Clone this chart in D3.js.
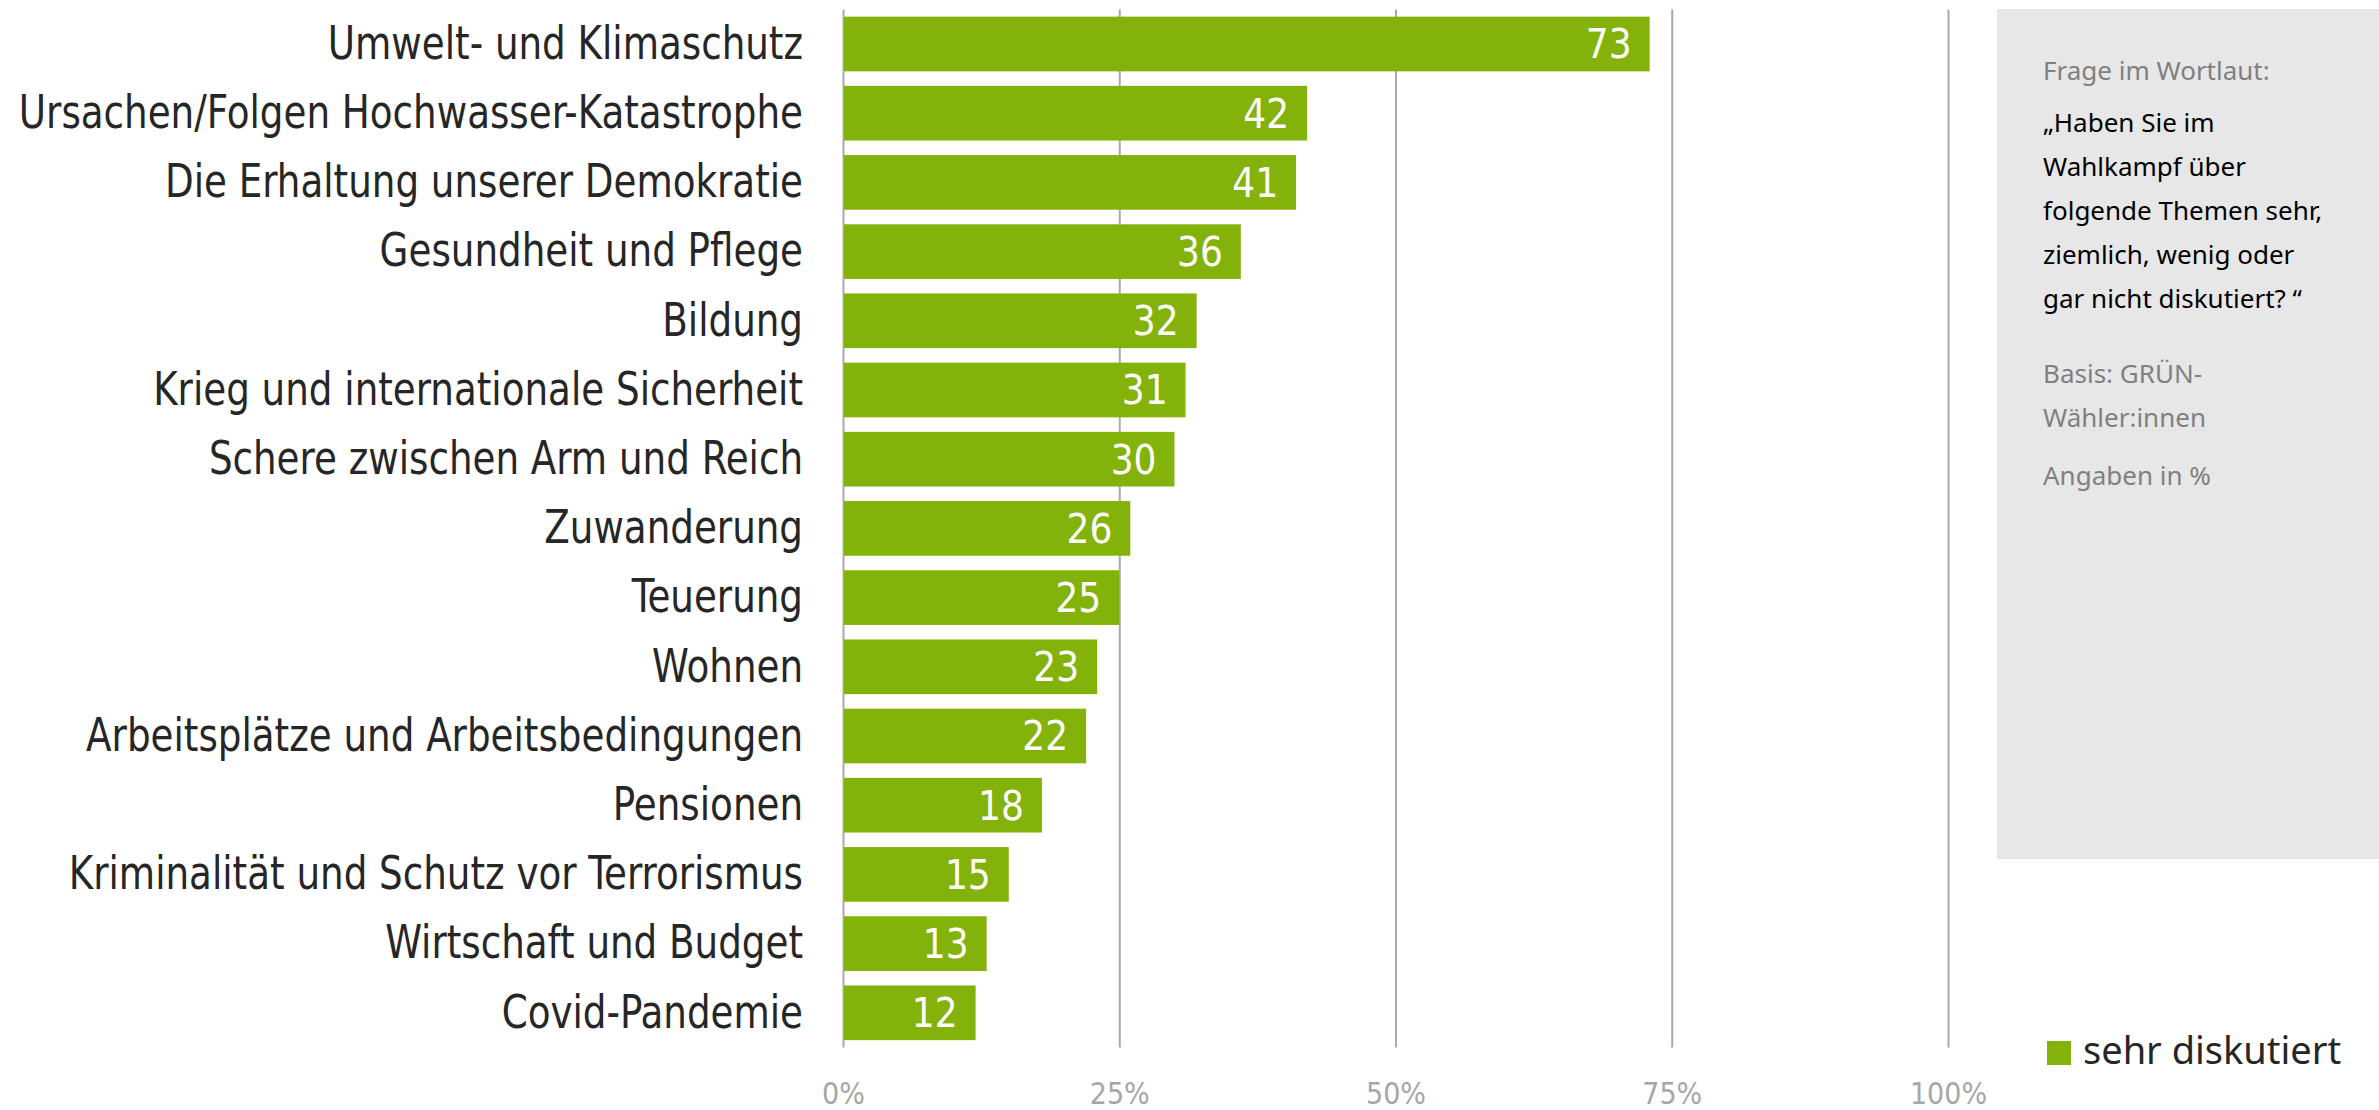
<!DOCTYPE html>
<html>
<head>
<meta charset="utf-8">
<script src="https://cdn.jsdelivr.net/npm/d3@7"></script>
<style>
  body { margin: 0; background: #fff; }
  .note { font-family: "Noto Sans", "Open Sans", sans-serif; }
</style>
</head>
<body>
<svg id="chart" width="2379" height="1110"></svg>
<script>
var categories = [
  'Umwelt- und Klimaschutz',
  'Ursachen/Folgen Hochwasser-Katastrophe',
  'Die Erhaltung unserer Demokratie',
  'Gesundheit und Pflege',
  'Bildung',
  'Krieg und internationale Sicherheit',
  'Schere zwischen Arm und Reich',
  'Zuwanderung',
  'Teuerung',
  'Wohnen',
  'Arbeitsplätze und Arbeitsbedingungen',
  'Pensionen',
  'Kriminalität und Schutz vor Terrorismus',
  'Wirtschaft und Budget',
  'Covid-Pandemie'
];
var values = [73, 42, 41, 36, 32, 31, 30, 26, 25, 23, 22, 18, 15, 13, 12];
var tickValues = [0, 25, 50, 75, 100];
var seriesName = 'sehr diskutiert';
var noteGray1 = ['Frage im Wortlaut:'];
var noteBlack = ['„Haben Sie im', 'Wahlkampf über', 'folgende Themen sehr,', 'ziemlich, wenig oder', 'gar nicht diskutiert? “'];
var noteGray2 = ['Basis: GRÜN-', 'Wähler:innen'];
var noteGray3 = ['Angaben in %'];

var green = '#83b20b';
var gridColor = '#aaaaaa';
var narrowFont = '"Liberation Sans Narrow", "DejaVu Sans Condensed", sans-serif';
var squeeze = 0.9; // the original label font is narrower than what we have

var svg = d3.select('#chart');

var plotTop = 9.4, plotBottom = 1047.4;
var x = d3.scaleLinear().domain([0, 100]).range([843, 1948]);
var y = d3.scaleBand()
  .domain(categories)
  .range([plotTop, plotBottom])
  .paddingInner(0.21)
  .paddingOuter(0.105);

// grid + percent labels
var xAxis = d3.axisBottom(x)
  .tickValues(tickValues)
  .tickSize(-(plotBottom - plotTop))
  .tickPadding(35)
  .tickFormat(d => d + '%');

var gx = svg.append('g')
  .attr('transform', 'translate(0,' + plotBottom + ')')
  .call(xAxis);
gx.select('.domain').remove();
gx.selectAll('line').attr('stroke', gridColor).attr('stroke-width', 2);
gx.selectAll('text')
  .attr('fill', '#a6a6a6')
  .style('font-size', '30px')
  .style('font-family', narrowFont);

// bars
svg.append('g')
  .selectAll('rect')
  .data(values)
  .enter()
  .append('rect')
  .attr('x', x(0) + 1)
  .attr('y', (d, i) => y(categories[i]))
  .attr('width', d => x(d) - x(0) - 1)
  .attr('height', y.bandwidth())
  .attr('fill', green);

// value labels
svg.append('g')
  .selectAll('text')
  .data(values)
  .enter()
  .append('text')
  .attr('x', d => x(d) - 18)
  .attr('y', (d, i) => y(categories[i]) + y.bandwidth() / 2)
  .attr('dy', '0.36em')
  .attr('text-anchor', 'end')
  .attr('fill', '#fff')
  .style('font-size', '40px')
  .style('font-family', narrowFont)
  .text(d => d);

// category labels
var yAxis = d3.axisLeft(y).tickSize(0).tickPadding(40);
var gy = svg.append('g')
  .attr('transform', 'translate(' + x(0) + ',0)')
  .call(yAxis);
gy.select('.domain').remove();
gy.selectAll('text')
  .attr('fill', '#262626')
  .attr('x', -40 / squeeze)
  .attr('transform', 'scale(' + squeeze + ',1)')
  .style('font-size', '46px')
  .style('font-family', narrowFont);

// side note box
svg.append('rect')
  .attr('x', 1997).attr('y', 9)
  .attr('width', 382).attr('height', 850)
  .attr('fill', '#e7e7e7');

var note = svg.append('g').attr('class', 'note').style('font-size', '26px');
function noteLines(lines, y0, color) {
  note.append('g')
    .selectAll('text')
    .data(lines)
    .enter()
    .append('text')
    .attr('x', 2043)
    .attr('y', (d, i) => y0 + i * 44)
    .attr('fill', color)
    .text(d => d);
}
noteLines(noteGray1, 80, '#808080');
noteLines(noteBlack, 132, '#000');
noteLines(noteGray2, 383, '#808080');
noteLines(noteGray3, 485, '#808080');

// legend
var legend = svg.append('g').attr('transform', 'translate(2047,1041)');
legend.append('rect')
  .attr('width', 24).attr('height', 24)
  .attr('fill', green);
legend.append('text')
  .attr('class', 'note')
  .attr('x', 36).attr('y', 23)
  .attr('fill', '#262626')
  .style('font-size', '38px')
  .text(seriesName);
</script>
</body>
</html>
